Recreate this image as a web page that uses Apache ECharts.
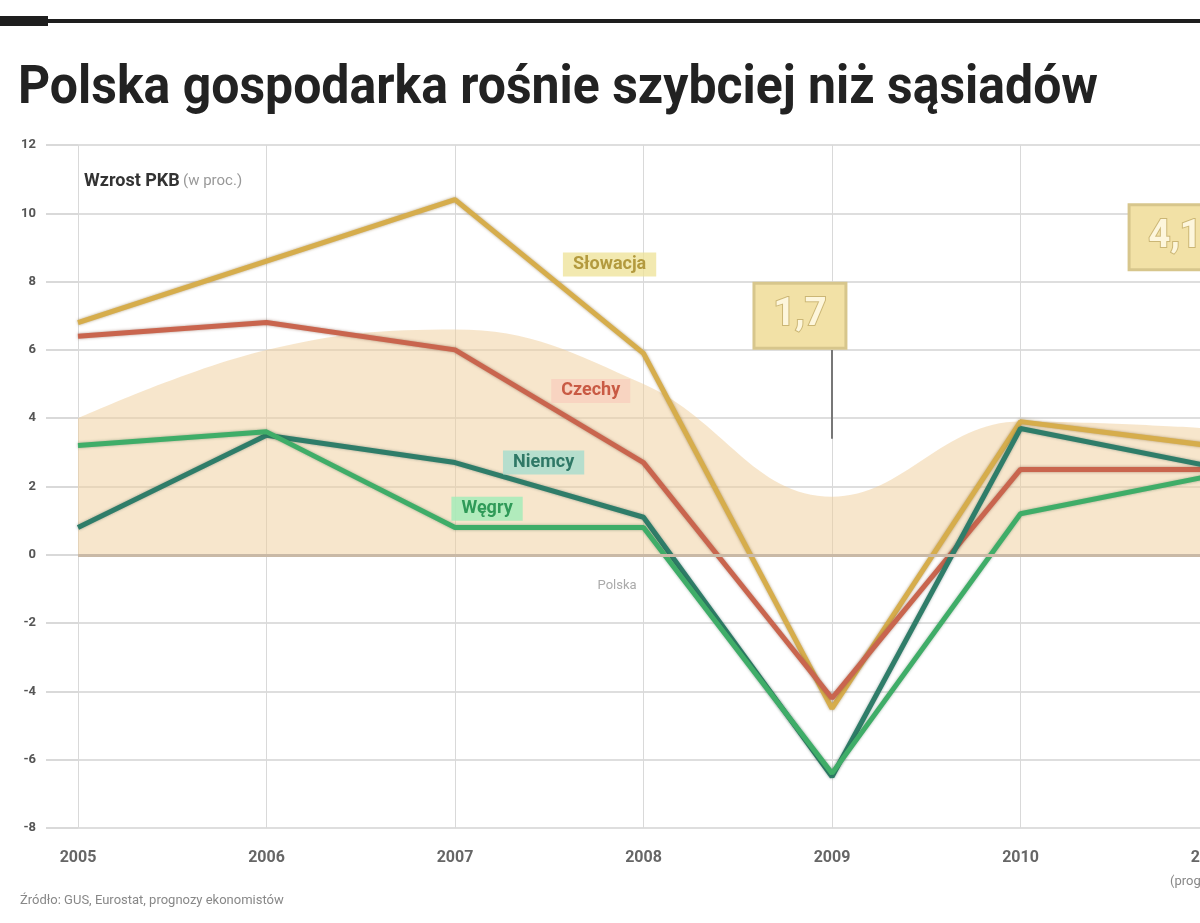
<!DOCTYPE html>
<html>
<head>
<meta charset="utf-8">
<script src="https://cdn.jsdelivr.net/npm/echarts@6/dist/echarts.min.js"></script>
<style>
html,body{margin:0;padding:0;background:#fff;}
#c{width:1200px;height:923px;}
</style>
</head>
<body>
<div id="c"></div>
<script>
const years = [2005, 2006, 2007, 2008, 2009, 2010, 2011];
const yTicks = [-8, -6, -4, -2, 0, 2, 4, 6, 8, 10, 12];
const polska   = [4.0, 6.0, 6.6, 5.0, 1.7, 3.9, 3.7];
const slowacja = [6.8, 8.6, 10.4, 5.9, -4.5, 3.9, 3.2];
const czechy   = [6.4, 6.8, 6.0, 2.7, -4.2, 2.5, 2.5];
const niemcy   = [0.8, 3.5, 2.7, 1.1, -6.5, 3.7, 2.6];
const wegry    = [3.2, 3.6, 0.8, 0.8, -6.4, 1.2, 2.3];
const boxLabels = ['1,7', '4,1'];

const pairs = arr => years.map((y, i) => [y, arr[i]]);
const fam = "Roboto,'Liberation Sans',sans-serif";

const titleText = 'Polska gospodarka rośnie szybciej niż sąsiadów';
const titleFont = "bold 54px Roboto,'Liberation Sans',sans-serif";
const cv = document.createElement('canvas').getContext('2d');
cv.font = titleFont;
const titleScale = 1080 / cv.measureText(titleText).width;

function tag(name, x, y, bg, fg) {
  return {
    coord: [x, y], symbolSize: 0,
    label: {show: true, position: 'inside', formatter: name, color: fg, backgroundColor: bg,
            fontFamily: fam, fontWeight: 'bold', fontSize: 18, padding: [3, 10]}
  };
}
const boxStyle = {
  show: true, position: 'inside', color: '#fdf6dc', fontSize: 38, fontWeight: 'bold',
  fontFamily: fam, textBorderColor: '#cbb675', textBorderWidth: 2,
  backgroundColor: '#f2e1a6', borderColor: '#d7c68c', borderWidth: 3, padding: [12, 18]
};

const chart = echarts.init(document.getElementById('c'));
chart.setOption({
  animation: false,
  backgroundColor: '#ffffff',
  grid: {left: 78, right: -9, top: 145, bottom: 95, containLabel: false, outerBoundsMode: 'none'},
  xAxis: {
    type: 'value', min: 2005, max: 2011, interval: 1,
    axisLine: {show: false}, axisTick: {show: false},
    axisLabel: {color: '#666', fontSize: 16, fontWeight: 'bold', fontFamily: fam, margin: 22,
                formatter: v => String(v)},
    splitLine: {show: true, lineStyle: {color: '#d9d9d9', width: 1}}
  },
  yAxis: {
    type: 'value', min: -8, max: 12, interval: 2,
    axisLine: {show: false},
    axisTick: {show: true, length: 32, lineStyle: {color: '#d9d9d9', width: 2}},
    axisLabel: {color: '#555', fontSize: 13, fontWeight: 'bold', fontFamily: fam, margin: 42},
    splitLine: {show: true, lineStyle: {color: '#dedede', width: 2}}
  },
  graphic: [
    {type: 'rect', shape: {x: 0, y: 19, width: 1200, height: 4}, style: {fill: '#1e1e1e'}},
    {type: 'rect', shape: {x: 0, y: 16, width: 48, height: 10}, style: {fill: '#1e1e1e'}},
    {type: 'text', x: 18, y: 62, scaleX: titleScale, style: {text: titleText, font: titleFont, fill: '#222'}},
    {type: 'text', left: 84, top: 172, style: {
      text: '{b|Wzrost PKB} {g|(w proc.)}',
      rich: {b: {fontSize: 18, fontWeight: 'bold', fill: '#333', fontFamily: fam},
             g: {fontSize: 15, fill: '#999', fontFamily: fam}}}},
    {type: 'text', left: 20, top: 894, style: {text: 'Źródło: GUS, Eurostat, prognozy ekonomistów',
      font: "13px Roboto,sans-serif", fill: '#888'}},
    {type: 'text', left: 1170, top: 875, style: {text: '(prognoza)',
      font: "13px Roboto,sans-serif", fill: '#888'}}
  ],
  series: [
    {
      name: 'Polska', type: 'line', data: pairs(polska), smooth: 0.4, symbol: 'none',
      lineStyle: {width: 0}, areaStyle: {color: 'rgba(240,205,155,0.72)', origin: 0}, z: 1,
      markLine: {
        silent: true, symbol: 'none', label: {show: false},
        data: [
          [{coord: [2005, 0], lineStyle: {color: '#c9b9a6', width: 3, type: 'solid'}}, {coord: [2011, 0]}],
          [{coord: [2009, 6.0], lineStyle: {color: '#777', width: 2, type: 'solid'}}, {coord: [2009, 3.4]}]
        ]
      },
      markPoint: {
        symbolSize: 0, silent: true,
        data: [
          {coord: [2008.83, 7.0], symbolSize: 0, label: Object.assign({formatter: boxLabels[0]}, boxStyle)},
          {coord: [2010.82, 9.3], symbolSize: 0, label: Object.assign({formatter: boxLabels[1]}, boxStyle)},
          {coord: [2007.86, -0.9], symbolSize: 0, label: {show: true, position: 'inside', formatter: 'Polska',
            color: '#aaa', fontSize: 13, fontFamily: fam}}
        ]
      }
    },
    {
      name: 'Słowacja', type: 'line', data: pairs(slowacja), symbol: 'none', z: 3,
      lineStyle: {color: '#d6ad4c', width: 5, shadowColor: 'rgba(120,85,20,0.55)', shadowBlur: 3}
    },
    {
      name: 'Czechy', type: 'line', data: pairs(czechy), symbol: 'none', z: 3,
      lineStyle: {color: '#c9654e', width: 5, shadowColor: 'rgba(110,50,30,0.5)', shadowBlur: 3}
    },
    {
      name: 'Niemcy', type: 'line', data: pairs(niemcy), symbol: 'none', z: 3,
      lineStyle: {color: '#2f7d69', width: 5, shadowColor: 'rgba(20,60,50,0.4)', shadowBlur: 3}
    },
    {
      name: 'Węgry', type: 'line', data: pairs(wegry), symbol: 'none', z: 3,
      lineStyle: {color: '#3fad68', width: 5, shadowColor: 'rgba(20,80,40,0.4)', shadowBlur: 3},
      markPoint: {
        symbolSize: 0, silent: true,
        data: [
          tag('Słowacja', 2007.82, 8.5, 'rgba(238,226,150,0.75)', '#b39a3e'),
          tag('Czechy', 2007.72, 4.8, 'rgba(248,205,190,0.75)', '#c95a44'),
          tag('Niemcy', 2007.47, 2.7, 'rgba(170,220,205,0.85)', '#2f7866'),
          tag('Węgry', 2007.17, 1.35, 'rgba(165,235,185,0.85)', '#2f9a58')
        ]
      }
    }
  ]
});
</script>
</body>
</html>
